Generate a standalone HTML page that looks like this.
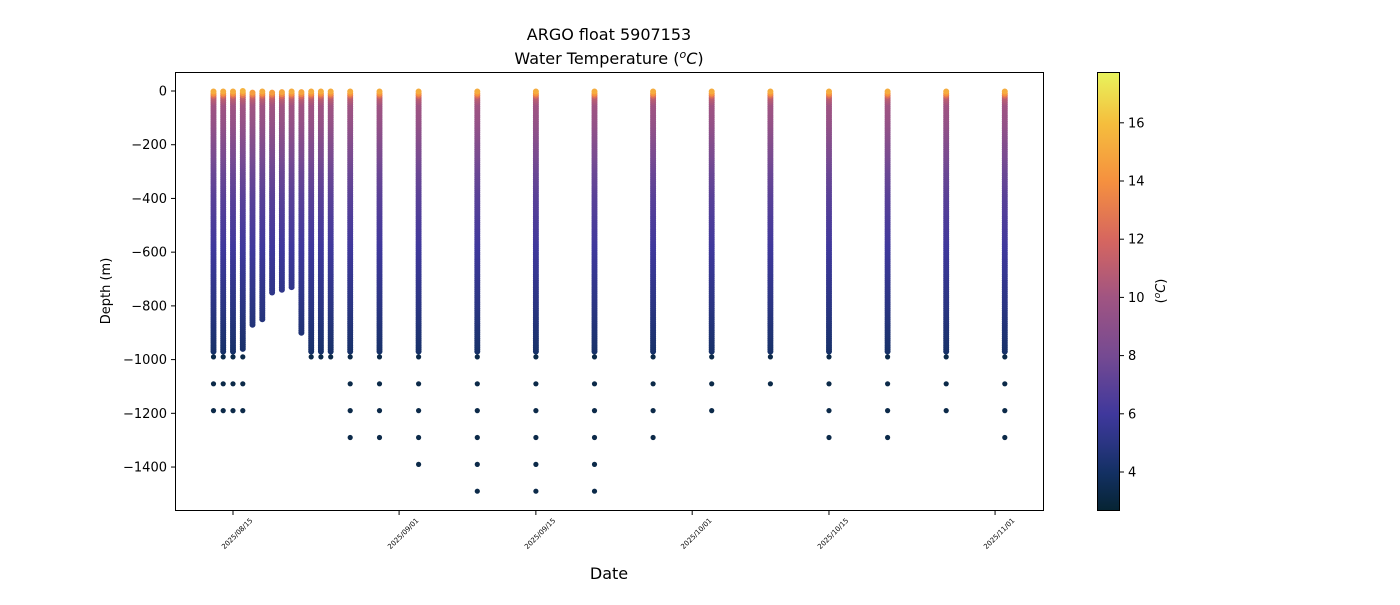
<!DOCTYPE html>
<html><head><meta charset="utf-8">
<style>
body{margin:0;background:#fff;font-family:"Liberation Sans","DejaVu Sans",sans-serif;}
svg text{font-family:"DejaVu Sans","Liberation Sans",sans-serif;}
</style></head>
<body>
<svg id="chart" width="1400" height="600" xmlns="http://www.w3.org/2000/svg">
<defs>
<linearGradient id="cmap" x1="0" y1="1" x2="0" y2="0"></linearGradient>
</defs>
<text x="609" y="40" font-size="16" text-anchor="middle">ARGO float 5907153</text>
<text x="609" y="64" font-size="16" text-anchor="middle">Water Temperature (<tspan font-size="11" dy="-6" font-style="italic">o</tspan><tspan dy="6" font-style="italic">C</tspan>)</text>
<g id="plot"></g>
<rect x="175.5" y="72.5" width="868" height="438" fill="none" stroke="#000" stroke-width="1"/>
<g id="yticks"></g>
<g id="xticks"></g>
<text transform="translate(110,291) rotate(-90)" font-size="13" text-anchor="middle">Depth (m)</text>
<text x="609" y="579" font-size="16" text-anchor="middle">Date</text>
<rect x="1097.5" y="72.5" width="22" height="438" fill="url(#cmap)" stroke="#000" stroke-width="1"/>
<g id="cticks"></g>
<text transform="translate(1165,291) rotate(-90)" font-size="13" text-anchor="middle">(<tspan font-size="9" dy="-5" font-style="italic">o</tspan><tspan dy="5" font-style="italic">C</tspan>)</text>
</svg>
<script>
// data
const profileDays = [-2,-1,0,1,2,3,4,5,6,7,8,9,10,12,15,19,25,31,37,43,49,55,61,67,73,79];
const profileMaxDepth = [970,970,970,960,870,850,750,740,730,900,970,970,970,970,970,970,970,970,970,970,970,970,970,970,970,970];
const deepDots = [
 [990,1090,1190],[990,1090,1190],[990,1090,1190],[990,1090,1190],
 [],[],[],[],[],[],[990],[990],[990],
 [990,1090,1190,1290],[990,1090,1190,1290],[990,1090,1190,1290,1390],
 [990,1090,1190,1290,1390,1490],[990,1090,1190,1290,1390,1490],[990,1090,1190,1290,1390,1490],
 [990,1090,1190,1290],[990,1090,1190],[990,1090],[990,1090,1190,1290],[990,1090,1190,1290],
 [990,1090,1190],[990,1090,1190,1290]];
const profDepths = [0,10,25,50,100,200,300,400,600,800,950,1000,1500];
const profTemps  = [15.5,14,11,10,9.6,8.6,7.6,6.9,5.9,5,4.3,3.9,3.4];
const yTicks = [0,-200,-400,-600,-800,-1000,-1200,-1400];
const xTickDays = [0,17,31,47,61,78];
const xTickLabels = ["2025/08/15","2025/09/01","2025/09/15","2025/10/01","2025/10/15","2025/11/01"];
const cTicks = [4,6,8,10,12,14,16];
const cStops = [[2.7,"#062433"],[4,"#133063"],[5,"#2a3582"],[6,"#3f389c"],[8,"#754a92"],[10,"#a05482"],[12,"#d6665f"],[14,"#f5903f"],[16,"#f5be3d"],[17.75,"#e8f35c"]];

const NS="http://www.w3.org/2000/svg";
const xS = d => 233 + d*9.77;
const yS = v => 91 - v*0.2686;
const cS = t => 472 - (t-4)*29.1;
const tMin=2.7,tMax=17.75;
function hex(h){return [1,3,5].map(i=>parseInt(h.substr(i,2),16));}
function color(t){
  t=Math.max(tMin,Math.min(tMax,t));
  for(let i=0;i<cStops.length-1;i++){
    const [a,ca]=cStops[i],[b,cb]=cStops[i+1];
    if(t<=b){const f=(t-a)/(b-a),A=hex(ca),B=hex(cb);
      return "rgb("+A.map((v,k)=>Math.round(v+(B[k]-v)*f)).join(",")+")";}
  }
  return cStops[cStops.length-1][1];
}
function tempAt(d){
  for(let i=0;i<profDepths.length-1;i++){
    if(d<=profDepths[i+1]){const f=(d-profDepths[i])/(profDepths[i+1]-profDepths[i]);return profTemps[i]+(profTemps[i+1]-profTemps[i])*f;}
  }
  return profTemps[profTemps.length-1];
}
function mk(tag,attrs,parent){const e=document.createElementNS(NS,tag);for(const k in attrs)e.setAttribute(k,attrs[k]);parent.appendChild(e);return e;}
// gradient
const grad=document.getElementById('cmap');
cStops.forEach(s=>mk('stop',{offset:((s[0]-tMin)/(tMax-tMin)).toFixed(4),'stop-color':s[1]},grad));
// profiles
const plot=document.getElementById('plot');
profileDays.forEach((day,i)=>{
  const g=mk('g',{},plot);
  
  
  const x=xS(day);
  for(let d=profileMaxDepth[i]; d>=0; d-=8){
    mk('circle',{cx:x.toFixed(1),cy:yS(-d).toFixed(1),r:3,fill:color(tempAt(d))},g);
  }
  deepDots[i].forEach(d=>{
    const c=mk('circle',{cx:x.toFixed(1),cy:yS(-d).toFixed(1),r:2.6,fill:color(3.3)},g);
    
    
  });
});
// y ticks
const yt=document.getElementById('yticks');
yTicks.forEach(v=>{
  const y=yS(v);
  mk('line',{x1:171,x2:175,y1:y,y2:y,stroke:'#000'},yt);
  const t=mk('text',{x:167,y:y+4.5,'font-size':13,'text-anchor':'end'},yt);
  
  
  t.textContent=v===0?'0':'\u2212'+Math.abs(v);
});
// x ticks
const xt=document.getElementById('xticks');
xTickDays.forEach((d,i)=>{
  const x=xS(d);
  mk('line',{x1:x,x2:x,y1:511,y2:515,stroke:'#000'},xt);
  const t=mk('text',{transform:`translate(${x+20},${521}) rotate(-45)`,'font-size':7,'text-anchor':'end'},xt);
  
  
  t.textContent=xTickLabels[i];
});
// colorbar ticks
const ct=document.getElementById('cticks');
cTicks.forEach(v=>{
  const y=cS(v);
  mk('line',{x1:1120,x2:1124,y1:y,y2:y,stroke:'#000'},ct);
  const t=mk('text',{x:1128,y:y+4.5,'font-size':13},ct);
  
  
  t.textContent=v;
});
</script>
</body></html>
